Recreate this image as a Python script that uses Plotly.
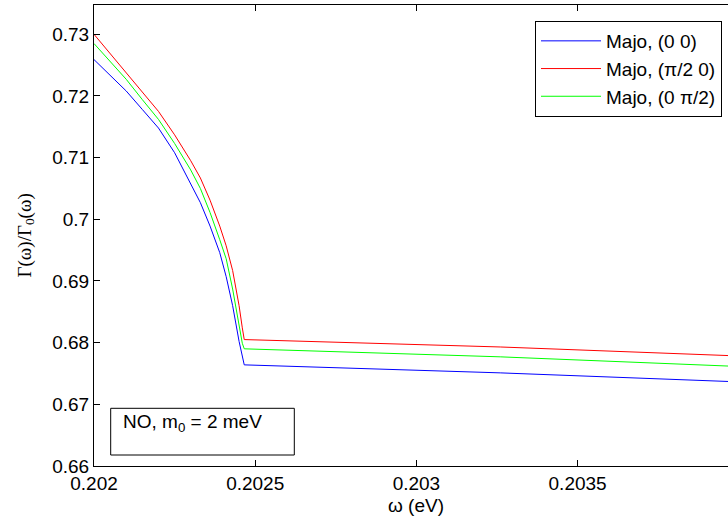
import plotly.graph_objects as go

# omega (eV)
omega = [0.2020, 0.20205, 0.2021, 0.20215, 0.2022, 0.20225, 0.2023, 0.20233,
         0.20236, 0.20239, 0.20241, 0.20243, 0.20245, 0.20246, 0.202466,
         0.20326, 0.20397]
ratio_00 = [0.7259, 0.7233, 0.7208, 0.7178, 0.7148, 0.7108, 0.7058, 0.7027,
            0.6989, 0.6946, 0.6907, 0.6860, 0.6802, 0.6775, 0.6764,
            0.6751, 0.6737]
ratio_pi2_0 = [0.7300, 0.7269, 0.7238, 0.7207, 0.7175, 0.7137, 0.7095, 0.7067,
               0.7031, 0.6989, 0.6957, 0.6917, 0.6860, 0.6824, 0.6805,
               0.6793, 0.6779]
ratio_0_pi2 = [0.7285, 0.7256, 0.7227, 0.7194, 0.7162, 0.7123, 0.7080, 0.7050,
               0.7011, 0.6967, 0.6936, 0.6887, 0.6829, 0.6799, 0.6790,
               0.6777, 0.6762]

series_names = ["Majo, (0 0)", "Majo, (\u03c0/2 0)", "Majo, (0 \u03c0/2)"]
series_colors = ["#0000ff", "#ff0000", "#00ff00"]

x_tickvals = [0.202, 0.2025, 0.203, 0.2035, 0.204]
x_ticktext = ["0.202", "0.2025", "0.203", "0.2035", "0.204"]
y_tickvals = [0.66, 0.67, 0.68, 0.69, 0.70, 0.71, 0.72, 0.73]
y_ticktext = ["0.66", "0.67", "0.68", "0.69", "0.7", "0.71", "0.72", "0.73"]

fig = go.Figure()
for name, ys, col in zip(series_names, [ratio_00, ratio_pi2_0, ratio_0_pi2], series_colors):
    fig.add_trace(go.Scatter(x=omega, y=ys, mode="lines", name=name,
                             line=dict(color=col, width=1)))

W, H = 728, 519
ml, mr, mt, mb = 94, 0, 5, 53
pw = W - ml - mr
ph = H - mt - mb

font_sans = "Liberation Sans, Arial, sans-serif"

fig.update_layout(
    width=W, height=H,
    margin=dict(l=ml, r=mr, t=mt, b=mb, pad=0),
    paper_bgcolor="white", plot_bgcolor="white",
    font=dict(family=font_sans, size=19, color="black"),
    showlegend=True,
    legend=dict(
        x=(722 - ml) / pw, xanchor="right",
        y=(H - mb - 21) / ph, yanchor="top",
        bgcolor="white", bordercolor="black", borderwidth=1,
        font=dict(family=font_sans, size=19, color="black"),
        itemwidth=60,
    ),
    xaxis=dict(
        range=[0.202, 0.2039665],
        tickvals=x_tickvals, ticktext=x_ticktext,
        ticks="inside", ticklen=6, tickwidth=1, tickcolor="black",
        showline=True, linecolor="black", linewidth=1, mirror="ticks",
        showgrid=False, zeroline=False,
        tickfont=dict(size=19),
    ),
    yaxis=dict(
        range=[0.66, 0.73475],
        tickvals=y_tickvals, ticktext=y_ticktext,
        ticks="inside", ticklen=6, tickwidth=1, tickcolor="black",
        showline=True, linecolor="black", linewidth=1, mirror=False,
        showgrid=False, zeroline=False,
        tickfont=dict(size=19),
    ),
)

# axis titles
fig.add_annotation(
    text="\u03c9 (eV)", xref="x", x=0.203, yref="paper", y=(H - mb - 505.5) / ph,
    xanchor="center", yanchor="middle", showarrow=False,
    font=dict(family=font_sans, size=19, color="black"),
)
fig.add_annotation(
    text="\u0393(\u03c9)/\u0393<sub>0</sub>(\u03c9)", xref="paper", x=-(ml - 25) / pw,
    yref="paper", y=0.5, textangle=-90, xanchor="center", yanchor="middle",
    showarrow=False,
    font=dict(family="Liberation Serif, Times New Roman, serif", size=19, color="black"),
)

# text box
fig.add_shape(
    type="rect", xref="paper", yref="paper",
    x0=(110.7 - ml) / pw, x1=(294.3 - ml) / pw,
    y0=(H - mb - 455) / ph, y1=(H - mb - 408.3) / ph,
    line=dict(color="black", width=1), fillcolor="white", layer="above",
)
fig.add_annotation(
    text="NO, m<sub>0</sub> = 2 meV", xref="paper", x=(120.7 - ml) / pw,
    yref="paper", y=(H - mb - 423.3) / ph, xanchor="left", yanchor="middle",
    showarrow=False,
    font=dict(family=font_sans, size=19, color="black"),
)

fig.write_html("out.html")
